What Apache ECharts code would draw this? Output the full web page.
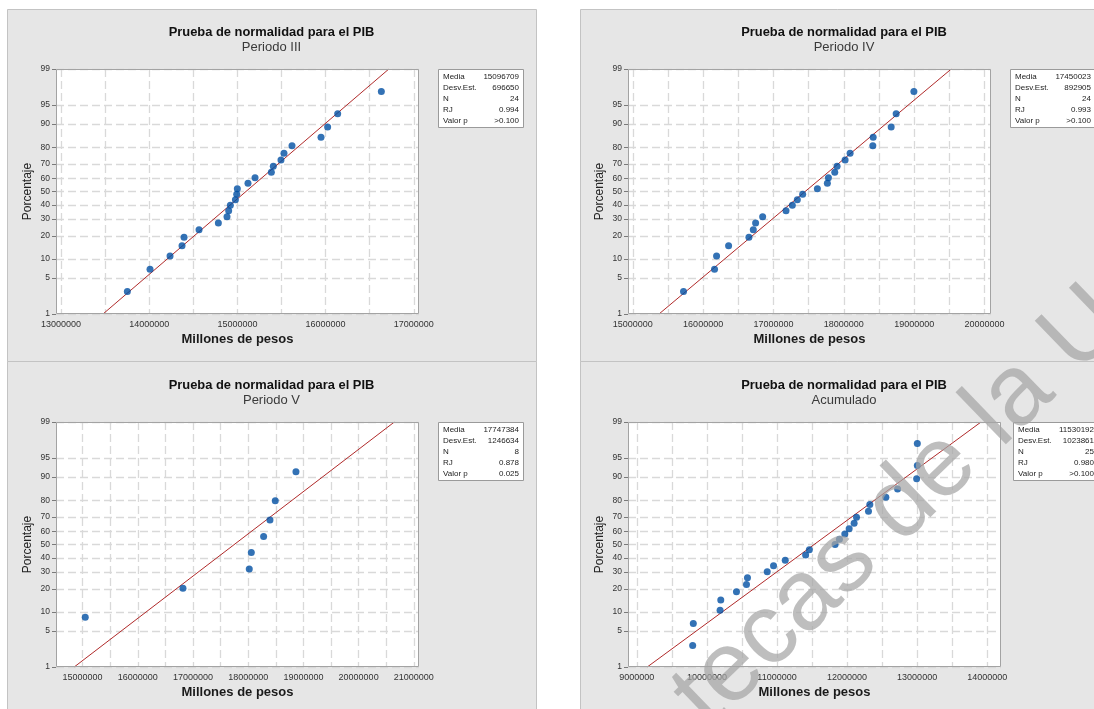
<!DOCTYPE html>
<html>
<head>
<meta charset="utf-8">
<script src="https://cdn.jsdelivr.net/npm/echarts@6/dist/echarts.min.js"></script>
<style>
  html, body { margin: 0; padding: 0; background: #ffffff; }
  #chart { width: 1094px; height: 709px; }
</style>
</head>
<body>
<div id="chart"></div>
<script>
// Percentages shown on the normal probability axis
const percentTicks = [1, 5, 10, 20, 30, 40, 50, 60, 70, 80, 90, 95, 99];
const statNames = ['Media', 'Desv.Est.', 'N', 'RJ', 'Valor p'];

// Periodo III (24 observaciones, ordenadas)
const p3Values = [13752000, 14009000, 14236000, 14372000, 14395000, 14565000, 14784000, 14882000,
  14901000, 14920000, 14977000, 14992000, 14999000, 15120000, 15200000, 15385000,
  15407000, 15494000, 15528000, 15619000, 15948000, 16023000, 16137000, 16632000];
const p3Percent = [2.87, 6.97, 11.07, 15.16, 19.26, 23.36, 27.46, 31.56, 35.66, 39.75, 43.85, 47.95,
  52.05, 56.15, 60.25, 64.34, 68.44, 72.54, 76.64, 80.74, 84.84, 88.93, 93.03, 97.13];
const p3Mean = 15096709, p3Sd = 696650;
const p3Stats = ['15096709', '696650', '24', '0.994', '>0.100'];
const p3XLabels = [13000000, 14000000, 15000000, 16000000, 17000000];
const p3XGrid = [13000000, 13500000, 14000000, 14500000, 15000000, 15500000, 16000000, 16500000, 17000000];

// Periodo IV (24 observaciones, ordenadas)
const p4Values = [15721000, 16162000, 16191000, 16362000, 16651000, 16713000, 16746000, 16846000,
  17178000, 17268000, 17339000, 17415000, 17624000, 17766000, 17781000, 17871000,
  17904000, 18018000, 18089000, 18412000, 18417000, 18673000, 18744000, 18996000];
const p4Percent = [2.87, 6.97, 11.07, 15.16, 19.26, 23.36, 27.46, 31.56, 35.66, 39.75, 43.85, 47.95,
  52.05, 56.15, 60.25, 64.34, 68.44, 72.54, 76.64, 80.74, 84.84, 88.93, 93.03, 97.13];
const p4Mean = 17450023, p4Sd = 892905;
const p4Stats = ['17450023', '892905', '24', '0.993', '>0.100'];
const p4XLabels = [15000000, 16000000, 17000000, 18000000, 19000000, 20000000];
const p4XGrid = [15000000, 15500000, 16000000, 16500000, 17000000, 17500000, 18000000, 18500000,
  19000000, 19500000, 20000000];

// Periodo V (8 observaciones, ordenadas)
const p5Values = [15048000, 16818000, 18019000, 18056000, 18279000, 18394000, 18490000, 18865000];
const p5Percent = [8.33, 20.24, 32.14, 44.05, 55.95, 67.86, 79.76, 91.67];
const p5Mean = 17747384, p5Sd = 1246634;
const p5Stats = ['17747384', '1246634', '8', '0.878', '0.025'];
const p5XLabels = [15000000, 16000000, 17000000, 18000000, 19000000, 20000000, 21000000];
const p5XGrid = [15000000, 15500000, 16000000, 16500000, 17000000, 17500000, 18000000, 18500000,
  19000000, 19500000, 20000000, 20500000, 21000000];

// Acumulado (25 observaciones, ordenadas)
const acValues = [9797000, 9806000, 10188000, 10198000, 10422000, 10565000, 10579000, 10861000,
  10951000, 11118000, 11409000, 11462000, 11829000, 11891000, 11968000, 12030000,
  12101000, 12135000, 12306000, 12325000, 12554000, 12721000, 12993000, 13003000, 13003000];
const acPercent = [2.76, 6.69, 10.63, 14.57, 18.50, 22.44, 26.38, 30.31, 34.25, 38.19, 42.13, 46.06,
  50.00, 53.94, 57.87, 61.81, 65.75, 69.69, 73.62, 77.56, 81.50, 85.43, 89.37, 93.31, 97.24];
const acMean = 11530192, acSd = 1023861;
const acStats = ['11530192', '1023861', '25', '0.980', '>0.100'];
const acXLabels = [9000000, 10000000, 11000000, 12000000, 13000000, 14000000];
const acXGrid = [9000000, 9500000, 10000000, 10500000, 11000000, 11500000, 12000000, 12500000,
  13000000, 13500000, 14000000];

// Inverse of the standard normal CDF (Acklam's rational approximation)
function probit(p) {
  const a = [-3.969683028665376e+01, 2.209460984245205e+02, -2.759285104469687e+02,
    1.383577518672690e+02, -3.066479806614716e+01, 2.506628277459239e+00];
  const b = [-5.447609879822406e+01, 1.615858368580409e+02, -1.556989798598866e+02,
    6.680131188771972e+01, -1.328068155288572e+01];
  const c = [-7.784894002430293e-03, -3.223964580411365e-01, -2.400758277161838e+00,
    -2.549732539343734e+00, 4.374664141464968e+00, 2.938163982698783e+00];
  const d = [7.784695709041462e-03, 3.224671290700398e-01, 2.445134137142996e+00,
    3.754408661907416e+00];
  const pl = 0.02425, ph = 1 - pl;
  let q, r;
  if (p < pl) {
    q = Math.sqrt(-2 * Math.log(p));
    return (((((c[0] * q + c[1]) * q + c[2]) * q + c[3]) * q + c[4]) * q + c[5]) /
      ((((d[0] * q + d[1]) * q + d[2]) * q + d[3]) * q + 1);
  }
  if (p <= ph) {
    q = p - 0.5; r = q * q;
    return (((((a[0] * r + a[1]) * r + a[2]) * r + a[3]) * r + a[4]) * r + a[5]) * q /
      (((((b[0] * r + b[1]) * r + b[2]) * r + b[3]) * r + b[4]) * r + 1);
  }
  q = Math.sqrt(-2 * Math.log(1 - p));
  return -(((((c[0] * q + c[1]) * q + c[2]) * q + c[3]) * q + c[4]) * q + c[5]) /
    ((((d[0] * q + d[1]) * q + d[2]) * q + d[3]) * q + 1);
}

const zTicks = percentTicks.map(p => probit(p / 100));
const zLo = zTicks[0];
const zHi = zTicks[zTicks.length - 1];

const datasets = [
  { sub: 'Periodo III', values: p3Values, pct: p3Percent, mean: p3Mean, sd: p3Sd, stats: p3Stats,
    xLabels: p3XLabels, xGrid: p3XGrid, xMin: 12943000, xMax: 17059000 },
  { sub: 'Periodo IV', values: p4Values, pct: p4Percent, mean: p4Mean, sd: p4Sd, stats: p4Stats,
    xLabels: p4XLabels, xGrid: p4XGrid, xMin: 14932000, xMax: 20092000 },
  { sub: 'Periodo V', values: p5Values, pct: p5Percent, mean: p5Mean, sd: p5Sd, stats: p5Stats,
    xLabels: p5XLabels, xGrid: p5XGrid, xMin: 14518000, xMax: 21094000 },
  { sub: 'Acumulado', values: acValues, pct: acPercent, mean: acMean, sd: acSd, stats: acStats,
    xLabels: acXLabels, xGrid: acXGrid, xMin: 8874000, xMax: 14197000 }
];

// Panel frames, plot rectangles, title anchors and stat boxes
const layouts = [
  { panel: [7.5, 9.5, 529, 352], grid: [56, 69, 363, 245], title: [271.5, 32], box: [438, 69] },
  { panel: [580.5, 9.5, 540, 352], grid: [628, 69, 363, 245], title: [844, 32], box: [1010, 69] },
  { panel: [7.5, 361.5, 529, 360], grid: [56, 422, 363, 245], title: [271.5, 385], box: [438, 422] },
  { panel: [580.5, 361.5, 540, 360], grid: [628, 422, 373, 245], title: [844, 385], box: [1013, 422] }
];

const FONT = 'Liberation Sans, Arial, sans-serif';
const gridLine = { color: '#d9d9d9', width: 1.3, type: [8, 4] };

const grids = [], xAxes = [], yAxes = [], series = [], graphics = [];

datasets.forEach((ds, i) => {
  const L = layouts[i];
  grids.push({ left: L.grid[0], top: L.grid[1], width: L.grid[2], height: L.grid[3],
    show: true, backgroundColor: '#ffffff', borderWidth: 0 });

  xAxes.push({
    gridIndex: i, type: 'value', min: ds.xMin, max: ds.xMax,
    axisLine: { show: false },
    axisTick: { show: false, customValues: ds.xGrid },
    axisLabel: { customValues: ds.xLabels, formatter: v => String(Math.round(v)),
      fontSize: 9, color: '#333', fontFamily: FONT, margin: 6 },
    splitLine: { show: true, lineStyle: gridLine },
    name: 'Millones de pesos', nameLocation: 'middle', nameGap: 19,
    nameTextStyle: { fontSize: 13, fontWeight: 'bold', color: '#1a1a1a', fontFamily: FONT }
  });

  yAxes.push({
    gridIndex: i, type: 'value', min: zLo, max: zHi,
    axisLine: { show: false },
    axisTick: { show: true, customValues: zTicks, length: 4, lineStyle: { color: '#7a7a7a' } },
    axisLabel: {
      customValues: zTicks, fontSize: 8.5, color: '#333', fontFamily: FONT, margin: 6,
      formatter: v => {
        const k = zTicks.findIndex(z => Math.abs(z - v) < 1e-6);
        return k >= 0 ? String(percentTicks[k]) : '';
      }
    },
    splitLine: { show: true, lineStyle: gridLine },
    name: 'Porcentaje', nameLocation: 'middle', nameGap: 22,
    nameTextStyle: { fontSize: 12, color: '#222', fontFamily: FONT }
  });

  series.push({
    type: 'line', xAxisIndex: i, yAxisIndex: i, symbol: 'none', silent: true,
    data: [[ds.mean + zLo * ds.sd, zLo], [ds.mean + zHi * ds.sd, zHi]],
    lineStyle: { color: '#b02a2a', width: 1 }, z: 3
  });
  series.push({
    type: 'scatter', xAxisIndex: i, yAxisIndex: i, symbol: 'circle', symbolSize: 7,
    data: ds.values.map((v, k) => [v, probit(ds.pct[k] / 100)]),
    itemStyle: { color: '#004fa2' }, z: 4
  });

  // panel background
  graphics.push({ type: 'rect', z: -10, silent: true,
    shape: { x: L.panel[0], y: L.panel[1], width: L.panel[2], height: L.panel[3] },
    style: { fill: '#e6e6e6', stroke: '#c3c3c3', lineWidth: 1 } });
  // plot frame
  graphics.push({ type: 'rect', z: 20, silent: true,
    shape: { x: L.grid[0] + 0.5, y: L.grid[1] + 0.5, width: L.grid[2] - 1, height: L.grid[3] - 1 },
    style: { fill: 'none', stroke: '#a3a3a3', lineWidth: 1 } });
  // titles
  graphics.push({ type: 'text', z: 20, silent: true, x: L.title[0], y: L.title[1],
    style: { text: 'Prueba de normalidad para el PIB', font: 'bold 12.9px ' + FONT,
      fill: '#111', align: 'center', verticalAlign: 'middle' } });
  graphics.push({ type: 'text', z: 20, silent: true, x: L.title[0], y: L.title[1] + 15.7,
    style: { text: ds.sub, font: '13px ' + FONT, fill: '#3a3a3a', align: 'center', verticalAlign: 'middle' } });
  // statistics box
  const bx = L.box[0], by = L.box[1];
  graphics.push({ type: 'rect', z: 20, silent: true,
    shape: { x: bx + 0.5, y: by + 0.5, width: 85, height: 58 },
    style: { fill: '#ffffff', stroke: '#9a9a9a', lineWidth: 1 } });
  statNames.forEach((nm, k) => {
    graphics.push({ type: 'text', z: 21, silent: true, x: bx + 5, y: by + 8 + k * 11,
      style: { text: nm, font: '8px ' + FONT, fill: '#222', align: 'left', verticalAlign: 'middle' } });
    graphics.push({ type: 'text', z: 21, silent: true, x: bx + 81, y: by + 8 + k * 11,
      style: { text: ds.stats[k], font: '8px ' + FONT, fill: '#222', align: 'right', verticalAlign: 'middle' } });
  });
});

// library stamp across the lower right
graphics.push({ type: 'text', z: 100, silent: true, x: 690, y: 711, rotation: 44 * Math.PI / 180,
  style: { text: 'tecas de la U', font: '100px ' + FONT, fill: 'rgba(165,165,165,0.72)',
    align: 'left', verticalAlign: 'middle' } });

const chart = echarts.init(document.getElementById('chart'), null, { renderer: 'canvas' });
chart.setOption({
  animation: false,
  backgroundColor: '#ffffff',
  grid: grids,
  xAxis: xAxes,
  yAxis: yAxes,
  series: series,
  graphic: graphics
});
</script>
</body>
</html>
